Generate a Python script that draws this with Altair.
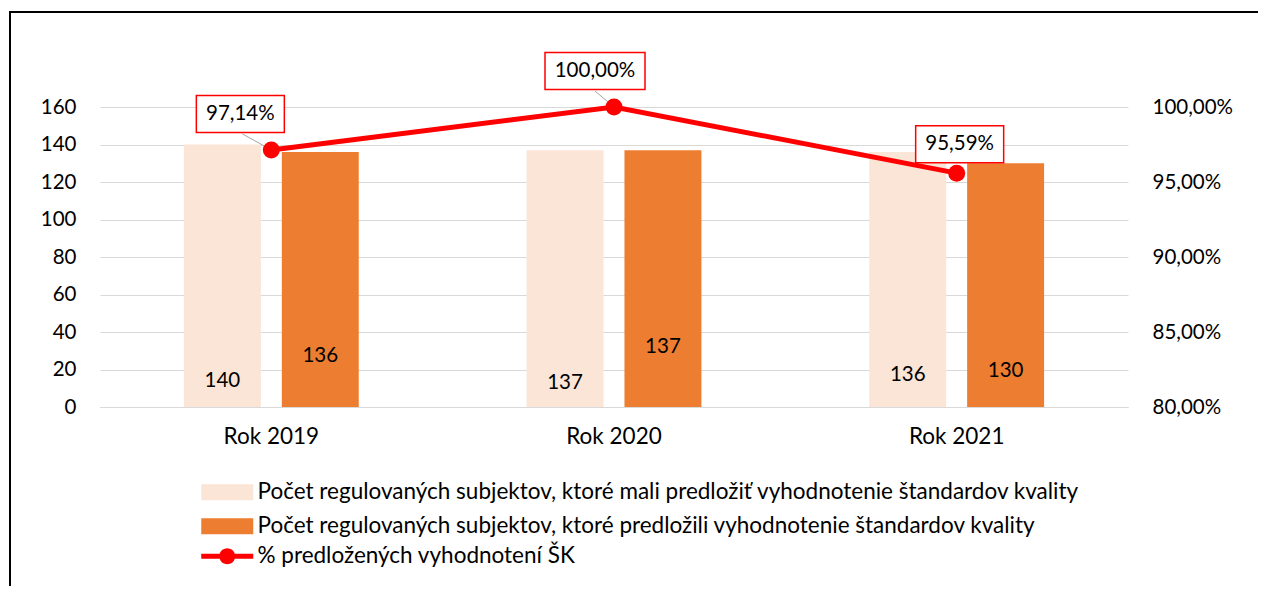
import altair as alt
import pandas as pd

# ---------------- data ----------------
years = ["Rok 2019", "Rok 2020", "Rok 2021"]
bar_series = [
    "Počet regulovaných subjektov, ktoré mali predložiť vyhodnotenie štandardov kvality",
    "Počet regulovaných subjektov, ktoré predložili vyhodnotenie štandardov kvality",
]
line_series = "% predložených vyhodnotení ŠK"
expected = [140, 137, 136]
submitted = [136, 137, 130]
pct = [97.14, 100.00, 95.59]
left_ticks = [0, 20, 40, 60, 80, 100, 120, 140, 160]
right_ticks = [0.80, 0.85, 0.90, 0.95, 1.00]

# annotation placement (label anchors, not data)
expected_label_at = [14, 13, 17]
submitted_label_at = [27, 32, 19]
pct_box_dx = [-31, -19, 3]
pct_box_dy = [-36, -36, -29]
pct_box_w = [88, 100, 88]
leader_end_dx = [-29, -19, None]
leader_end_dy = [-16, -16, None]

FONT = "Lato"
FS_NUM = 20.5
FS_TXT = 22.5
LIGHT = "#FBE5D6"
ORANGE = "#ED7D31"
RED = "#FF0000"

bar_rows = []
for i, y in enumerate(years):
    bar_rows.append({"year": y, "series": bar_series[0], "value": expected[i], "lab": expected_label_at[i]})
    bar_rows.append({"year": y, "series": bar_series[1], "value": submitted[i], "lab": submitted_label_at[i]})
bar_df = pd.DataFrame(bar_rows)

line_df = pd.DataFrame({"year": years, "pct": [p / 100 for p in pct], "series": [line_series] * 3})

x_enc = alt.X(
    "year:N", sort=years,
    scale=alt.Scale(paddingInner=0, paddingOuter=0),
    axis=alt.Axis(title=None, labelAngle=0, ticks=False, domainColor="#D9D9D9",
                  domainWidth=1, labelPadding=18, grid=False, labelFontSize=FS_TXT),
)
xoff_enc = alt.XOffset("series:N", sort=bar_series,
                       scale=alt.Scale(domain=bar_series, paddingInner=0.214, paddingOuter=0.857))
left_axis = alt.Axis(title=None, values=left_ticks, tickCount=9, domain=False, ticks=False,
                     labelOverlap=False, labelPadding=24, grid=True, gridColor="#D9D9D9", gridWidth=1)
left_scale = alt.Scale(domain=[0, 160], nice=False)

bars = alt.Chart(bar_df).mark_bar().encode(
    x=x_enc, xOffset=xoff_enc, y=alt.Y("value:Q", scale=left_scale, axis=left_axis),
    color=alt.Color(
        "series:N", sort=bar_series,
        scale=alt.Scale(domain=bar_series, range=[LIGHT, ORANGE]),
        legend=alt.Legend(
            title=None, orient="none", legendX=98, legendY=374,
            symbolType="M-1,-1H5.5V1H-1Z", symbolSize=256, symbolStrokeWidth=0,
            labelOffset=37, labelFont=FONT, labelFontSize=FS_TXT, labelColor="black",
            labelLimit=2000, rowPadding=11,
        ),
    ),
)
bar_text = alt.Chart(bar_df).mark_text(font=FONT, fontSize=FS_NUM, color="black", baseline="middle").encode(
    x=alt.X("year:N", sort=years), xOffset=alt.XOffset("series:N", sort=bar_series),
    y=alt.Y("lab:Q", scale=left_scale, axis=left_axis), text=alt.Text("value:Q"),
)
bar_group = alt.layer(bars, bar_text)

label_expr = "replace(format(datum.pct, '.2%'), '.', ',')"
y_right = alt.Y(
    "pct:Q",
    scale=alt.Scale(domain=[0.8, 1.0], nice=False, zero=False),
    axis=alt.Axis(title=None, orient="right", values=right_ticks, labelOverlap=False,
                  labelExpr="replace(format(datum.value, '.2%'), '.', ',')",
                  domain=False, ticks=False, grid=False, labelPadding=24),
)
base_line = alt.Chart(line_df)
xl = alt.X("year:N", sort=years)

line_layers = []
for i, yr in enumerate(years):
    if leader_end_dx[i] is not None:
        line_layers.append(
            base_line.transform_filter(alt.datum.year == yr).mark_rule(
                color="#A6A6A6", strokeWidth=1, x2Offset=leader_end_dx[i], y2Offset=leader_end_dy[i]
            ).encode(x=xl, x2=alt.X2("year"), y=y_right, y2=alt.Y2("pct"))
        )
line = base_line.mark_line(color=RED, strokeWidth=5).encode(x=xl, y=y_right)
points = base_line.mark_point(filled=True, size=290, opacity=1).encode(
    x=xl, y=alt.Y("pct:Q"),
    color=alt.Color(
        "series:N",
        scale=alt.Scale(domain=[line_series], range=[RED]),
        legend=alt.Legend(
            title=None, orient="none", legendX=98, legendY=438,
            symbolType="M-1,-0.3H5.5V0.3H-1Z M3.25,0A1,1,0,1,1,1.25,0A1,1,0,1,1,3.25,0Z",
            symbolSize=256, symbolStrokeWidth=0,
            labelOffset=37, labelFont=FONT, labelFontSize=FS_TXT, labelColor="black", labelLimit=2000,
        ),
    ),
)
line_layers += [line, points]
for i, yr in enumerate(years):
    sub = base_line.transform_filter(alt.datum.year == yr).transform_calculate(label=label_expr)
    line_layers.append(
        sub.mark_rect(width=pct_box_w[i], height=37, xOffset=pct_box_dx[i], yOffset=pct_box_dy[i],
                      fill="white", stroke=RED, strokeWidth=1.5).encode(x=xl, y=alt.Y("pct:Q"))
    )
    line_layers.append(
        sub.mark_text(dx=pct_box_dx[i], dy=pct_box_dy[i], font=FONT, fontSize=FS_NUM, color="black",
                      baseline="middle", align="center").encode(x=xl, y=alt.Y("pct:Q"), text="label:N")
    )
line_group = alt.layer(*line_layers)

# outer chart frame (left and top edges visible in the crop)
frame_df = pd.DataFrame({"a": [0]})
frame_left = alt.Chart(frame_df).mark_rule(color="black", strokeWidth=2).encode(
    x=alt.value(-90), y=alt.value(-95), y2=alt.value(600)
)
frame_top = alt.Chart(frame_df).mark_rule(color="black", strokeWidth=2).encode(
    x=alt.value(-91), x2=alt.value(1300), y=alt.value(-95)
)

chart = alt.layer(frame_left, frame_top, bar_group, line_group).resolve_scale(
    y="independent", color="independent"
).properties(
    width=1028, height=300,
    padding={"left": 92, "top": 99, "right": 130, "bottom": 179},
    autosize=alt.AutoSizeParams(type="none"),
    background="white",
).configure_axis(
    labelFont=FONT, labelFontSize=FS_NUM, labelColor="black"
).configure_view(stroke=None)

chart.save("out.html", embed_options={"renderer": "svg", "actions": False})
